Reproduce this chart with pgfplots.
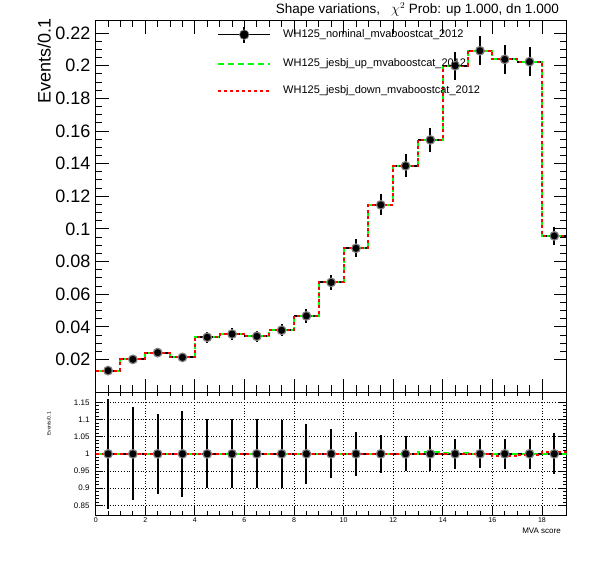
\documentclass[border=0pt]{standalone}
\usepackage{pgfplots}
\pgfplotsset{compat=1.18}
\usepackage{pgfplotstable}
\usepackage{fontspec}
\setmainfont{Liberation Sans}

\pgfplotstableread{
x y ey r er
0.5 0.0132 0.0021 1 0.160
1.5 0.0201 0.0027 1 0.135
2.5 0.0242 0.0028 1 0.117
3.5 0.0213 0.0027 1 0.126
4.5 0.0336 0.0034 1 0.100
5.5 0.0356 0.0036 1 0.100
6.5 0.0342 0.0034 1 0.100
7.5 0.0379 0.0037 1 0.098
8.5 0.0467 0.0041 1 0.087
9.5 0.0672 0.0048 1 0.071
10.5 0.0881 0.0056 1 0.064
11.5 0.1147 0.0064 1 0.056
12.5 0.1386 0.0071 1 0.051
13.5 0.1545 0.0075 1 0.050
14.5 0.1999 0.0086 1 0.043
15.5 0.2091 0.0088 1 0.042
16.5 0.2038 0.0088 1 0.043
17.5 0.2024 0.0087 1 0.043
18.5 0.0957 0.0057 1 0.060
}\nom

\pgfplotstableread{
x y ru rd
0 0.0132 1 1
1 0.0201 1 1
2 0.0242 1 1
3 0.0213 1 1
4 0.0336 1 1
5 0.0356 1 1
6 0.0342 1 1
7 0.0379 1 1
8 0.0467 1 1
9 0.0672 1 1
10 0.0881 1 1
11 0.1147 1 1
12 0.1386 1 1
13 0.1545 1.005 1
14 0.1999 1.002 1
15 0.2091 1 1
16 0.2038 1 0.994
17 0.2024 1 0.998
18 0.0957 1 1.004
19 0.0957 1 1.004
}\hist

\definecolor{rgreen}{rgb}{0,1,0}
\definecolor{rred}{rgb}{1,0,0}

\pgfplotsset{
  rootpts/.style={only marks, mark=*, mark size=4.3pt,
    mark options={fill=black, draw=gray, line width=1.2pt},
    /pgfplots/error bars/y dir=both, /pgfplots/error bars/y explicit,
    /pgfplots/error bars/x dir=both, /pgfplots/error bars/x fixed=0.5,
    /pgfplots/error bars/error mark=none,
    /pgfplots/error bars/error bar style={line width=2pt, black}},
  greenhist/.style={const plot mark left, no marks, rgreen, line width=2pt, dash pattern=on 6pt off 4pt},
  redhist/.style={const plot mark left, no marks, rred, line width=2pt, dash pattern=on 3pt off 3pt},
}

\begin{document}
\begin{tikzpicture}
\path[use as bounding box] (0pt,0pt) rectangle (596pt,572pt);

\begin{axis}[
  at={(95.7pt,180pt)}, anchor=south west, scale only axis,
  width=471pt, height=371.3pt,
  xmin=0, xmax=19, ymin=0.0001, ymax=0.2275,
  xtick={0,2,4,6,8,10,12,14,16,18}, xticklabels={}, minor x tick num=3,
  ytick={0.02,0.04,0.06,0.08,0.1,0.12,0.14,0.16,0.18,0.2,0.22}, minor y tick num=3,
  xtick pos=both, ytick pos=both, yticklabel pos=left, tick align=inside,
  major tick length=13pt, minor tick length=6.5pt,
  tick style={black, line width=0.8pt},
  axis line style={line width=0.8pt},
  /pgf/number format/assume math mode=true,
  yticklabel style={font=\fontsize{18}{18}\selectfont, /pgf/number format/fixed, /pgf/number format/precision=2, inner sep=0pt, xshift=-5pt},
  legend style={at={(0.2576,0.992)}, anchor=north west, draw=none, fill=none,
    font=\fontsize{11}{13}\selectfont, row sep=13.5pt, inner xsep=0pt, inner ysep=2pt},
  legend cell align=left,
]
\addplot[rootpts, legend image code/.code={
   \draw[black, line width=1.6pt] (0pt,0pt) -- (52pt,0pt);
   \draw[black, line width=1.6pt] (26pt,-8pt) -- (26pt,8pt);
   \fill[gray] (26pt,0pt) circle (4.9pt);
   \fill[black] (26pt,0pt) circle (4pt);}]
  table[x=x, y=y, y error=ey]{\nom};
\addlegendentry{\hspace{10pt}WH125\_nominal\_mvaboostcat\_2012}
\addplot[greenhist, legend image code/.code={
   \draw[rgreen, line width=2pt, dash pattern=on 6pt off 4pt] (0pt,0pt) -- (52pt,0pt);}]
  table[x=x, y=y]{\hist};
\addlegendentry{\hspace{10pt}WH125\_jesbj\_up\_mvaboostcat\_2012}
\addplot[redhist, legend image code/.code={
   \draw[rred, line width=2pt, dash pattern=on 3pt off 3pt] (0pt,0pt) -- (52pt,0pt);}]
  table[x=x, y=y]{\hist};
\addlegendentry{\hspace{10pt}WH125\_jesbj\_down\_mvaboostcat\_2012}
\end{axis}

\begin{axis}[
  at={(95.7pt,57pt)}, anchor=south west, scale only axis,
  width=471pt, height=123pt,
  xmin=0, xmax=19, ymin=0.822, ymax=1.18,
  xtick={0,2,4,6,8,10,12,14,16,18}, minor x tick num=3,
  ytick={0.85,0.9,0.95,1,1.05,1.1,1.15}, minor y tick num=4,
  xtick pos=both, ytick pos=both, xticklabel pos=lower, yticklabel pos=left, tick align=inside,
  major tick length=7.5pt, minor tick length=3.5pt,
  tick style={black, line width=0.8pt},
  axis line style={line width=0.8pt},
  grid=major, major grid style={black, line width=0.8pt, dotted},
  /pgf/number format/assume math mode=true,
  yticklabel style={font=\fontsize{8}{8}\selectfont, /pgf/number format/fixed, /pgf/number format/precision=2, inner sep=0pt, xshift=-6pt},
  xticklabel style={font=\fontsize{7}{7}\selectfont, inner sep=0pt, yshift=-2pt},
]
\addplot[rootpts] table[x=x, y=r, y error=er]{\nom};
\addplot[greenhist] table[x=x, y=ru]{\hist};
\addplot[redhist] table[x=x, y=rd]{\hist};
\draw[black, line width=2.6pt] (rel axis cs:0,1) -- (rel axis cs:1,1);
\end{axis}

\node[rotate=90, anchor=base east, inner sep=0pt, font=\fontsize{18}{18}\selectfont] at (50.5pt,554pt) {Events/0.1};
\node[rotate=90, anchor=base east, inner sep=0pt, font=\fontsize{5}{5}\selectfont] at (50.5pt,160pt) {Events/0.1};
\node[anchor=base east, inner sep=0pt, font=\fontsize{13.5}{14}\selectfont] at (559pt,558.7pt) {Shape variations,\hspace{11pt}$\chi^2$ Prob: up 1.000, dn 1.000};
\node[anchor=base east, inner sep=0pt, font=\fontsize{8}{8}\selectfont] at (561pt,38pt) {MVA score};
\end{tikzpicture}
\end{document}
